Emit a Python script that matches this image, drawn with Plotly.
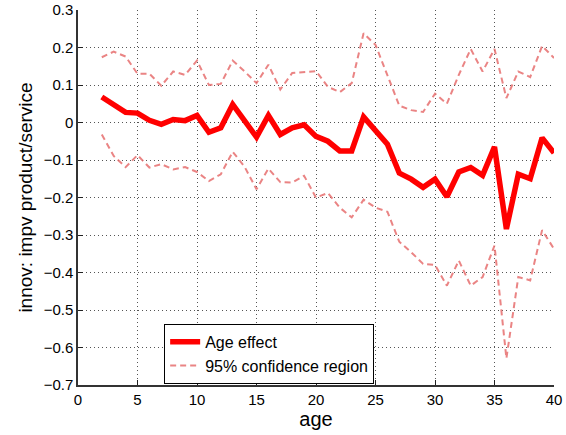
import plotly.graph_objects as go

ages = list(range(2, 41))
age_effect = [0.068, 0.048, 0.027, 0.025, 0.006, -0.005, 0.008, 0.005, 0.019, -0.026,
              -0.014, 0.048, 0.004, -0.039, 0.019, -0.032, -0.014, -0.006, -0.037, -0.050,
              -0.076, -0.076, 0.015, -0.019, -0.058, -0.135, -0.151, -0.173, -0.151, -0.198,
              -0.132, -0.120, -0.141, -0.065, -0.284, -0.138, -0.150, -0.041, -0.081]
ci_upper = [0.174, 0.189, 0.176, 0.130, 0.130, 0.098, 0.136, 0.127, 0.165, 0.100,
            0.103, 0.165, 0.136, 0.105, 0.154, 0.088, 0.132, 0.134, 0.137, 0.095,
            0.081, 0.105, 0.238, 0.207, 0.127, 0.045, 0.033, 0.028, 0.077, 0.050,
            0.127, 0.196, 0.136, 0.196, 0.065, 0.136, 0.121, 0.204, 0.172]
ci_lower = [-0.032, -0.089, -0.119, -0.087, -0.120, -0.111, -0.125, -0.119, -0.132, -0.156,
            -0.138, -0.078, -0.118, -0.178, -0.123, -0.159, -0.160, -0.142, -0.200, -0.188,
            -0.227, -0.253, -0.206, -0.227, -0.238, -0.318, -0.346, -0.377, -0.380, -0.435,
            -0.368, -0.435, -0.412, -0.328, -0.629, -0.412, -0.421, -0.287, -0.337]

x_ticks = [0, 5, 10, 15, 20, 25, 30, 35, 40]
y_ticks = [0.3, 0.2, 0.1, 0, -0.1, -0.2, -0.3, -0.4, -0.5, -0.6, -0.7]

ci_color = "rgba(230,110,110,0.85)"

fig = go.Figure()
fig.add_trace(go.Scatter(x=ages, y=age_effect, mode="lines", name="Age effect",
                         line=dict(color="#FF0000", width=5.5)))
fig.add_trace(go.Scatter(x=ages, y=ci_upper, mode="lines", name="95% confidence region",
                         line=dict(color=ci_color, width=2, dash="6px,4px")))
fig.add_trace(go.Scatter(x=ages, y=ci_lower, mode="lines", showlegend=False,
                         line=dict(color=ci_color, width=2, dash="6px,4px")))

axis_common = dict(showgrid=True, gridcolor="#555555", griddash="1px,3px", gridwidth=1,
                   showline=True, linecolor="#333333", linewidth=1.5, mirror=False,
                   ticks="inside", ticklen=5, tickcolor="#222222", zeroline=False,
                   automargin=False,
                   tickfont=dict(family="Liberation Sans, Arial, sans-serif", size=15, color="black"))

fig.update_layout(
    width=566, height=435,
    margin=dict(l=78, r=12, t=10, b=50),
    paper_bgcolor="white", plot_bgcolor="white",
    font=dict(family="Liberation Sans, Arial, sans-serif", color="black"),
    xaxis=dict(range=[0, 40], tickvals=x_ticks,
               title=dict(text="age", font=dict(size=20), standoff=2), **axis_common),
    yaxis=dict(range=[-0.7, 0.3], tickvals=y_ticks,
               title=dict(text="innov: impv product/service", font=dict(size=19), standoff=6),
               **axis_common),
    legend=dict(x=0.181, y=0.163, xanchor="left", yanchor="top",
                bgcolor="white", bordercolor="black", borderwidth=1,
                font=dict(size=16), tracegroupgap=0, itemwidth=30),
    showlegend=True,
)

fig.write_html("out.html", config={"displayModeBar": False},
               post_script="document.body.style.margin='0';document.body.style.padding='0';")
